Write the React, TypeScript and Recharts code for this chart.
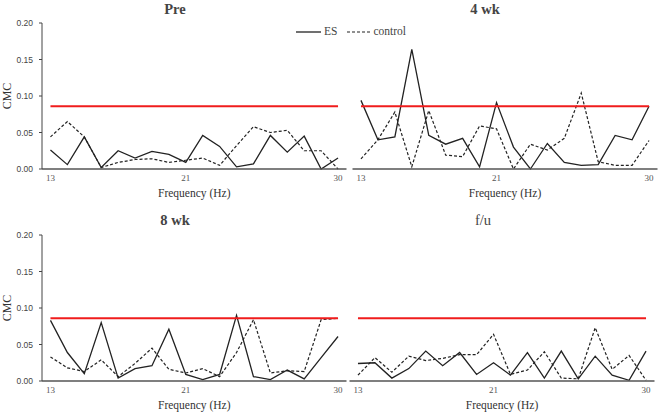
import { LineChart, Line, XAxis, YAxis } from 'recharts';

const freq = [13, 14, 15, 16, 17, 18, 19, 20, 21, 22, 23, 24, 25, 26, 27, 28, 29, 30];
const xTicks = [13, 21, 30];
const yTicks = [0, 0.05, 0.1, 0.15, 0.2];
const THRESHOLD = 0.086;

const preES = [0.026, 0.006, 0.044, 0.002, 0.025, 0.015, 0.024, 0.020, 0.009, 0.046, 0.031, 0.003, 0.007, 0.046, 0.023, 0.045, 0.000, 0.015];
const preCtl = [0.044, 0.065, 0.044, 0.002, 0.009, 0.013, 0.014, 0.009, 0.012, 0.015, 0.005, 0.032, 0.058, 0.050, 0.053, 0.025, 0.025, 0.000];

const wk4ES = [0.094, 0.040, 0.044, 0.164, 0.046, 0.034, 0.042, 0.003, 0.091, 0.030, 0.000, 0.035, 0.009, 0.005, 0.006, 0.046, 0.040, 0.086];
const wk4Ctl = [0.014, 0.040, 0.078, 0.003, 0.080, 0.019, 0.017, 0.059, 0.055, 0.000, 0.034, 0.026, 0.042, 0.104, 0.010, 0.005, 0.005, 0.039];

const wk8ES = [0.083, 0.039, 0.010, 0.080, 0.004, 0.017, 0.021, 0.071, 0.009, 0.002, 0.009, 0.090, 0.006, 0.002, 0.015, 0.003, 0.032, 0.061];
const wk8Ctl = [0.033, 0.018, 0.013, 0.029, 0.006, 0.024, 0.045, 0.016, 0.011, 0.017, 0.006, 0.039, 0.084, 0.011, 0.014, 0.013, 0.084, 0.086];

const fuES = [0.024, 0.025, 0.004, 0.017, 0.041, 0.021, 0.039, 0.009, 0.025, 0.008, 0.039, 0.004, 0.041, 0.003, 0.034, 0.008, 0.001, 0.041];
const fuCtl = [0.008, 0.032, 0.012, 0.034, 0.028, 0.031, 0.036, 0.036, 0.064, 0.009, 0.015, 0.040, 0.004, 0.003, 0.073, 0.016, 0.035, 0.001];

const SERIF = '"Liberation Serif", "Times New Roman", serif';
const SANS = '"Liberation Sans", Arial, sans-serif';

function build(es: number[], ctl: number[]) {
  return freq.map((f, i) => ({ f, es: es[i], ctl: ctl[i], thr: THRESHOLD }));
}

// custom tick / label renderers so the font family really sticks
const XTick = (props: any) => {
  const { x, y, payload } = props;
  return (
    <text x={x} y={y + 12} textAnchor="middle" fontFamily={SERIF} fontSize={9} fill="#555">
      {payload.value}
    </text>
  );
};

const YTick = (props: any) => {
  const { x, y, payload } = props;
  return (
    <text x={x} y={y + 3} textAnchor="end" fontFamily={SANS} fontSize={8.5} fill="#444">
      {Number(payload.value).toFixed(2)}
    </text>
  );
};

const FreqLabel = (props: any) => {
  const vb = props.viewBox || {};
  return (
    <text
      x={vb.x + vb.width / 2}
      y={vb.y + 28}
      textAnchor="middle"
      fontFamily={SERIF}
      fontSize={11.5}
      fill="#333"
    >
      Frequency (Hz)
    </text>
  );
};

interface PanelProps {
  es: number[];
  ctl: number[];
  left: number;
  top: number;
  width: number;
  mLeft: number;
  mRight: number;
  showY: boolean;
}

function Panel({ es, ctl, left, top, width, mLeft, mRight, showY }: PanelProps) {
  return (
    <div style={{ position: 'absolute', left, top }}>
      <LineChart
        width={width}
        height={200}
        data={build(es, ctl)}
        margin={{ top: 23, right: mRight, bottom: 0, left: mLeft }}
      >
        <XAxis
          dataKey="f"
          type="number"
          domain={[12.5, 30.5]}
          ticks={xTicks}
          height={31}
          stroke="#555"
          strokeWidth={1.5}
          tickLine={false}
          tickSize={0}
          tickMargin={0}
          tick={<XTick />}
          label={<FreqLabel />}
        />
        {showY ? (
          <YAxis
            domain={[0, 0.2]}
            ticks={yTicks}
            width={42}
            stroke="#444"
            tickSize={3}
            tickMargin={6}
            tick={<YTick />}
          />
        ) : (
          <YAxis hide domain={[0, 0.2]} />
        )}
        <Line dataKey="es" stroke="#222" strokeWidth={1.3} dot={false} isAnimationActive={false} />
        <Line
          dataKey="ctl"
          stroke="#222"
          strokeWidth={1.2}
          strokeDasharray="3 2"
          dot={false}
          isAnimationActive={false}
        />
        <Line dataKey="thr" stroke="#f01c1c" strokeWidth={2} dot={false} isAnimationActive={false} />
      </LineChart>
    </div>
  );
}

function Title({ text, x, y, bold }: { text: string; x: number; y: number; bold: boolean }) {
  return (
    <div
      style={{
        position: 'absolute',
        left: x,
        top: y - 9,
        transform: 'translateX(-50%)',
        fontFamily: SERIF,
        fontSize: 14.5,
        lineHeight: '18px',
        fontWeight: bold ? 'bold' : 'normal',
        color: '#444',
        whiteSpace: 'nowrap',
      }}
    >
      {text}
    </div>
  );
}

function YLabel({ y }: { y: number }) {
  return (
    <div
      style={{
        position: 'absolute',
        left: 7,
        top: y,
        transform: 'translate(-50%, -50%) rotate(-90deg)',
        fontFamily: SERIF,
        fontSize: 12,
        color: '#333',
      }}
    >
      CMC
    </div>
  );
}

export default function App() {
  return (
    <div
      style={{
        position: 'absolute',
        left: 0,
        top: 0,
        width: 660,
        height: 412,
        background: '#fff',
        overflow: 'hidden',
      }}
    >
      <Panel es={preES} ctl={preCtl} left={0} top={0} width={350} mLeft={0} mRight={3.5} showY />
      <Panel es={wk4ES} ctl={wk4Ctl} left={340} top={0} width={320} mLeft={12.5} mRight={2.5} showY={false} />
      <Panel es={wk8ES} ctl={wk8Ctl} left={0} top={212} width={350} mLeft={0} mRight={3.5} showY />
      <Panel es={fuES} ctl={fuCtl} left={340} top={212} width={320} mLeft={9.5} mRight={5.5} showY={false} />

      <Title text="Pre" x={175} y={9} bold />
      <Title text="4 wk" x={485} y={9} bold />
      <Title text="8 wk" x={175} y={220} bold />
      <Title text="f/u" x={483} y={220} bold={false} />

      <YLabel y={96} />
      <YLabel y={308} />

      <div
        style={{
          position: 'absolute',
          left: 296,
          top: 24,
          display: 'flex',
          alignItems: 'center',
          fontFamily: SERIF,
          fontSize: 11.5,
          color: '#444',
          lineHeight: '15px',
        }}
      >
        <svg width={25} height={4}>
          <line x1={0} y1={2} x2={25} y2={2} stroke="#222" strokeWidth={1.3} />
        </svg>
        <span style={{ marginLeft: 3 }}>ES</span>
        <svg width={23} height={4} style={{ marginLeft: 10 }}>
          <line x1={0} y1={2} x2={23} y2={2} stroke="#222" strokeWidth={1.2} strokeDasharray="3 2" />
        </svg>
        <span style={{ marginLeft: 3 }}>control</span>
      </div>
    </div>
  );
}
